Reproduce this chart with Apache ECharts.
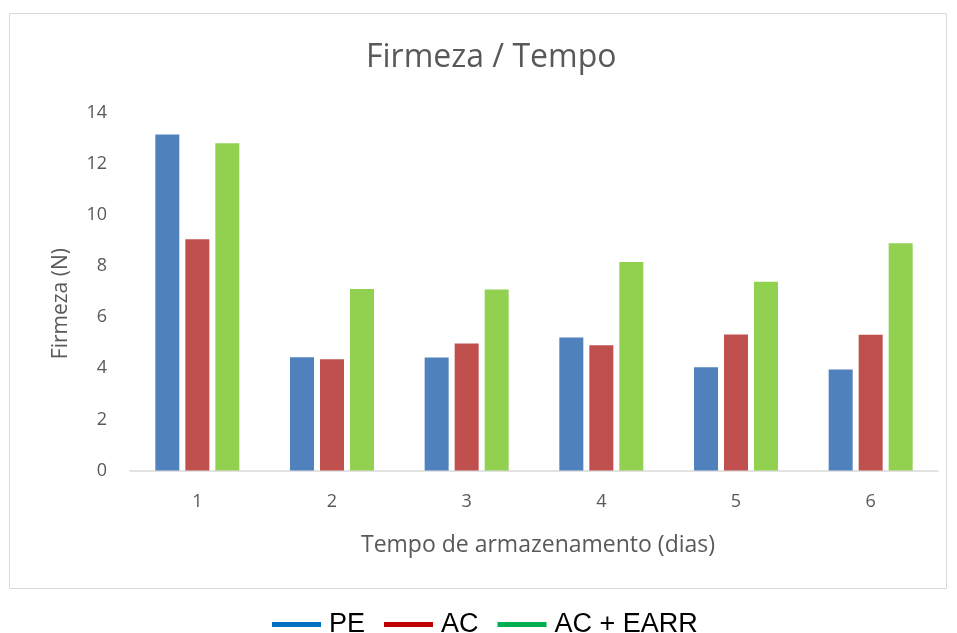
<!DOCTYPE html>
<html>
<head>
<meta charset="utf-8">
<script src="https://cdn.jsdelivr.net/npm/echarts@6/dist/echarts.min.js"></script>
<style>
html,body{margin:0;padding:0;background:#fff;}
#chart{width:957px;height:633px;}
</style>
</head>
<body>
<div id="chart"></div>
<script>
const categories = ['1', '2', '3', '4', '5', '6'];
const pe = [13.15, 4.43, 4.42, 5.21, 4.04, 3.95];
const ac = [9.05, 4.35, 4.97, 4.90, 5.32, 5.31];
const acEarr = [12.81, 7.10, 7.08, 8.16, 7.39, 8.89];
const seriesNames = ['PE', 'AC', 'AC + EARR'];
const yTicks = [0, 2, 4, 6, 8, 10, 12, 14];

const chart = echarts.init(document.getElementById('chart'), null, {renderer: 'canvas'});
const font = 'Open Sans';
const txt = '#595959';
chart.setOption({
  animation: false,
  backgroundColor: '#fff',
  title: {
    text: 'Firmeza / Tempo',
    left: 361,
    top: 37,
    textStyle: {fontFamily: font, fontSize: 32, fontWeight: 'normal', color: txt}
  },
  graphic: [{
    type: 'rect',
    shape: {x: 9.5, y: 13.5, width: 937, height: 575},
    style: {fill: 'none', stroke: '#d9d9d9', lineWidth: 1},
    silent: true, z: -1
  }],
  legend: {
    top: 606,
    left: 267,
    icon: 'rect',
    itemWidth: 49,
    itemHeight: 5,
    itemGap: 19,
    textStyle: {fontFamily: 'Liberation Sans', fontSize: 27, color: '#000', padding: [0, 0, 0, 3]},
    data: [
      {name: seriesNames[0], itemStyle: {color: '#0070C0'}},
      {name: seriesNames[1], itemStyle: {color: '#C00000'}},
      {name: seriesNames[2], itemStyle: {color: '#00B050'}}
    ]
  },
  grid: {left: 130, right: 19, top: 112.8, bottom: 162.5},
  xAxis: {
    type: 'category',
    data: categories,
    axisLine: {show: true, lineStyle: {color: '#d9d9d9', width: 1.5}},
    axisTick: {show: false},
    axisLabel: {fontFamily: font, fontSize: 18, color: txt, margin: 22},
    name: 'Tempo de armazenamento (dias)',
    nameLocation: 'middle',
    nameGap: 63,
    nameTextStyle: {fontFamily: font, fontSize: 23, color: txt, padding: [0, 0, 0, 8]}
  },
  yAxis: {
    type: 'value',
    min: yTicks[0],
    max: yTicks[yTicks.length - 1],
    interval: 2,
    splitLine: {show: false},
    axisLine: {show: false},
    axisTick: {show: false},
    axisLabel: {fontFamily: font, fontSize: 18, color: txt, margin: 23},
    name: 'Firmeza (N)',
    nameLocation: 'middle',
    nameGap: 58,
    nameTextStyle: {fontFamily: font, fontSize: 21, color: txt, padding: [0, 24, 0, 0]}
  },
  series: [
    {name: seriesNames[0], type: 'bar', data: pe, barWidth: 24, barGap: '25%', itemStyle: {color: '#4F81BD'}},
    {name: seriesNames[1], type: 'bar', data: ac, barWidth: 24, barGap: '25%', itemStyle: {color: '#C0504D'}},
    {name: seriesNames[2], type: 'bar', data: acEarr, barWidth: 24, barGap: '25%', itemStyle: {color: '#92D050'}}
  ]
});
</script>
</body>
</html>
